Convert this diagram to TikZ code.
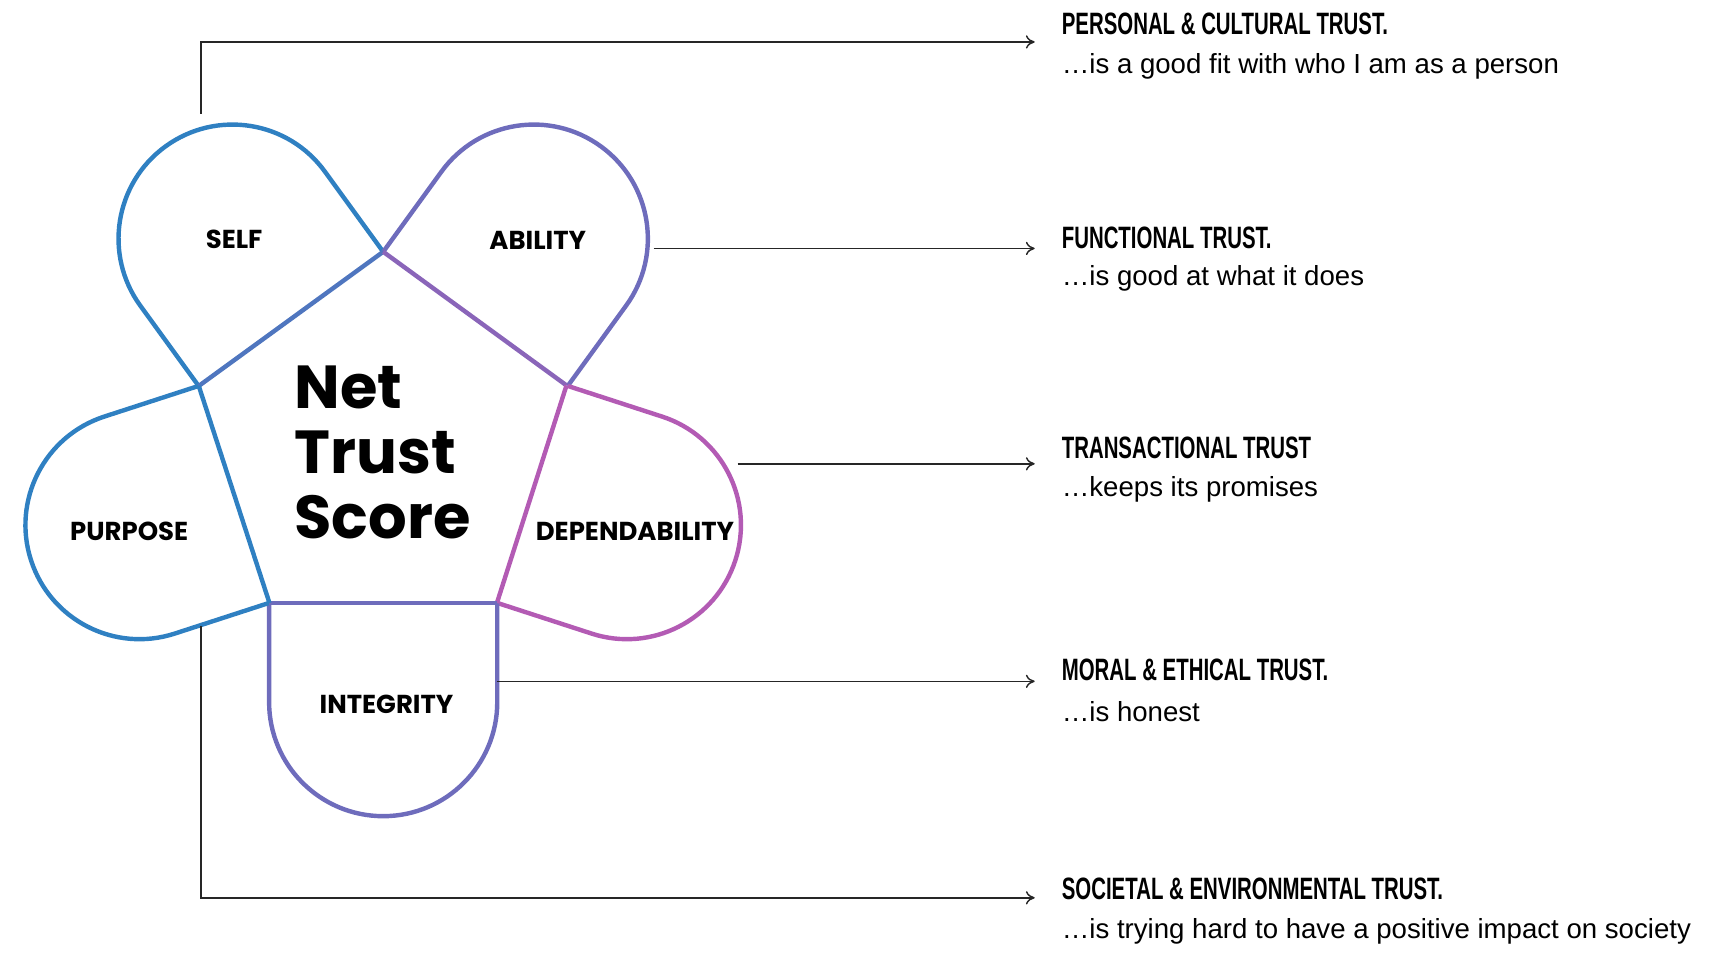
\documentclass[tikz,border=0pt]{standalone}
\usepackage{fontspec}
\setmainfont{Liberation Sans}
\newfontfamily\petalfont{Poppins}
\newfontfamily\headfont[FakeStretch=0.66]{Liberation Sans}
\usetikzlibrary{arrows.meta}
\definecolor{tblue}{HTML}{2F80C2}
\definecolor{tmid}{HTML}{6E6CBC}
\definecolor{tpink}{HTML}{B35BB4}

\begin{document}
\begin{tikzpicture}[
    x=1pt,y=1pt,
    petal/.style={line width=4pt,line join=round},
    lbl/.style={font=\petalfont\bfseries\fontsize{23.5}{25}\selectfont},
    head/.style={anchor=west,font=\headfont\bfseries\fontsize{28}{30}\selectfont},
    sub/.style={anchor=west,font=\fontsize{25}{27}\selectfont},
    link/.style={-{To[length=8pt,width=12pt]},line width=1.3pt,draw=black!85},
]
    \useasboundingbox (0,0) rectangle (1563,863);

    %%%
    % petals around the pentagon
    \coordinate (C) at (347,459.2);
    \foreach \ang/\col in {36/tblue, -36/tmid, -108/tpink, 180/tmid, 108/tblue}{
        \begin{scope}[shift={(C)},rotate=\ang]
            \draw[petal,\col] (-103.3,142.2) -- (-103.3,232) arc[start angle=180,end angle=0,radius=103.3] -- (103.3,142.2);
        \end{scope}
    }
    \draw[petal,tblue!50!tmid] (180,513.5) -- (347,635);
    \draw[petal,tmid!60!tpink] (347,635) -- (513,514);
    \draw[petal,tpink] (513,514) -- (450,317);
    \draw[petal,tmid] (450,317) -- (244,317);
    \draw[petal,tblue] (244,317) -- (180,513.5);

    % labels
    \node[lbl] (self) at (212,646) {SELF};
    \node[lbl] (ability) at (487,645) {ABILITY};
    \node[lbl] (purpose) at (117,382) {PURPOSE};
    \node[lbl] (depend) at (575,382) {DEPENDABILITY};
    \node[lbl] (integ) at (350,225) {INTEGRITY};
    \node[anchor=west,align=left,font=\petalfont\bfseries\fontsize{55}{59}\selectfont] (score) at (263,453) {Net\\Trust\\Score};

    % texts on the right
    \node[head] (h1) at (958,841) {PERSONAL \& CULTURAL TRUST.};
    \node[sub]  (s1) at (958,803) {\dots is a good fit with who I am as a person};
    \node[head] (h2) at (958,648) {FUNCTIONAL TRUST.};
    \node[sub]  (s2) at (958,611) {\dots is good at what it does};
    \node[head] (h3) at (958,457) {TRANSACTIONAL TRUST};
    \node[sub]  (s3) at (958,420) {\dots keeps its promises};
    \node[head] (h4) at (958,256) {MORAL \& ETHICAL TRUST.};
    \node[sub]  (s4) at (958,219) {\dots is honest};
    \node[head] (h5) at (958,58) {SOCIETAL \& ENVIRONMENTAL TRUST.};
    \node[sub]  (s5) at (958,20) {\dots is trying hard to have a positive impact on society};

    % connectors
    \coordinate (a1) at (182,760);
    \coordinate (a2) at (592,638);
    \coordinate (a3) at (668,443);
    \coordinate (a4) at (450,246);
    \coordinate (a5) at (182,296);
    \coordinate (e1) at (937,825);
    \coordinate (e2) at (937,638);
    \coordinate (e3) at (937,443);
    \coordinate (e4) at (937,246);
    \coordinate (e5) at (937,50);
    \draw[link] (a1) |- (e1);
    \draw[link] (a2) -- (e2);
    \draw[link] (a3) -- (e3);
    \draw[link] (a4) -- (e4);
    \draw[link] (a5) |- (e5);

\end{tikzpicture}
\end{document}
